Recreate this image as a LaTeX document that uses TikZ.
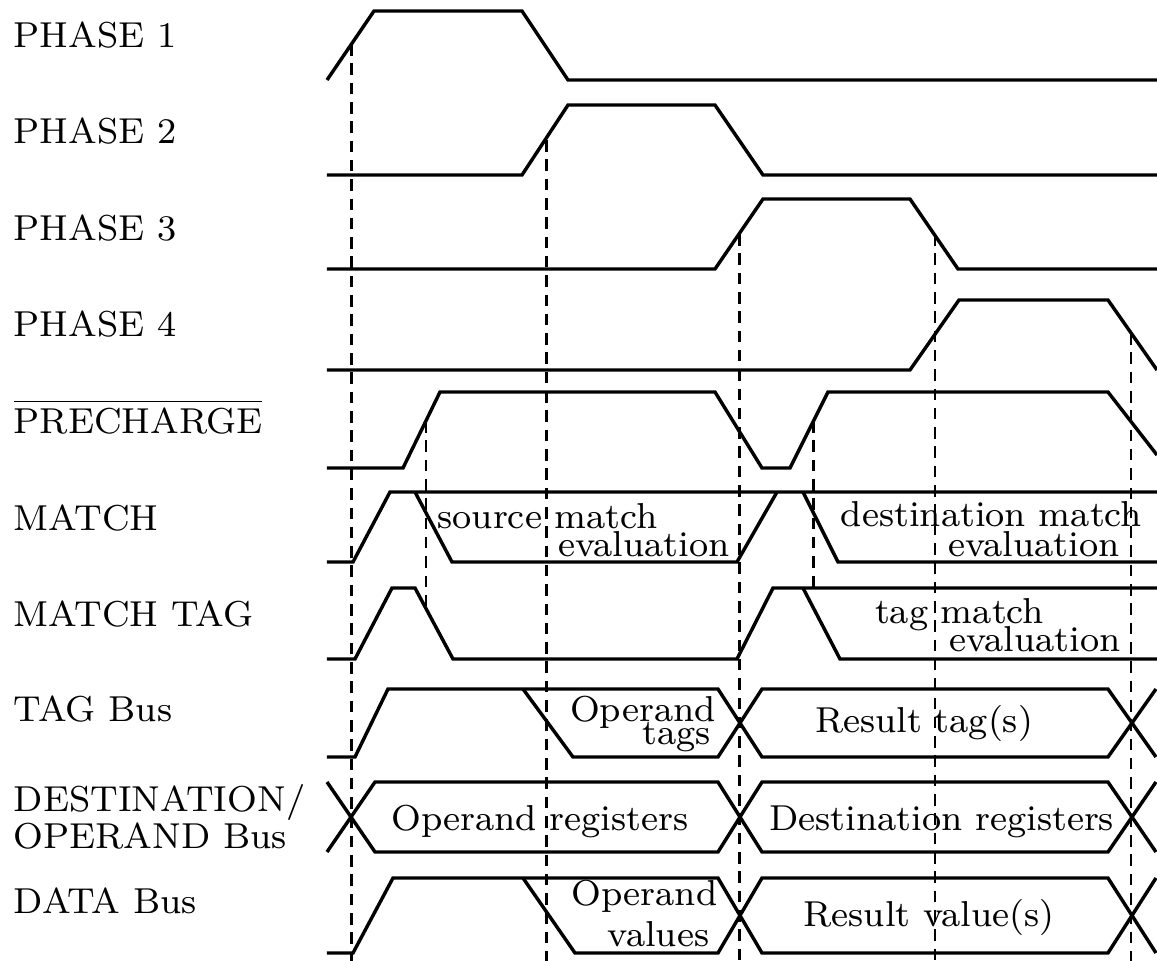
\documentclass[tikz,border=0pt]{standalone}
\usepackage{tikz}

\begin{document}
\begin{tikzpicture}[x=0.233pt,y=-0.233pt,
		sig/.style={line width=0.8pt},
		guide/.style={line width=0.65pt,dash pattern=on 2.7pt off 1.8pt},
		lbl/.style={inner sep=0pt,anchor=base west,font=\fontsize{8.4}{9}\selectfont},
		lblc/.style={lbl,anchor=base},
		lblr/.style={lbl,anchor=base east},
		upper/.style={text depth=0pt}]
		\useasboundingbox (0,0) rectangle (1157,961);
		
		%signal names
		\node[lbl] (nph1) at (13,47.7) {PHASE 1};
		\node[lbl] (nph2) at (13,143.3) {PHASE 2};
		\node[lbl] (nph3) at (13,240) {PHASE 3};
		\node[lbl] (nph4) at (13,336.3) {PHASE 4};
		\node[lbl] (npre) at (13,433.3) {$\overline{\mbox{PRECHARGE}}$};
		\node[lbl] (nmatch) at (13,530) {MATCH};
		\node[lbl] (nmtag) at (13,626) {MATCH TAG};
		\node[lbl] (ntag) at (13,721.7) {TAG Bus};
		\node[lbl,upper] (ndest) at (13,811.7) {DESTINATION/};
		\node[lbl] (ndestb) at (13,848.3) {OPERAND Bus};
		\node[lbl] (ndata) at (13,913.3) {DATA Bus};
		
		%clock phases
		\draw[sig] (327,80) -- (374,11) -- (522,11) -- (568,80) -- (1157,80);
		\draw[sig] (327,175) -- (522,175) -- (568,105) -- (715,105) -- (763,175) -- (1157,175);
		\draw[sig] (327,269) -- (715,269) -- (763,199) -- (910,199) -- (958,269) -- (1157,269);
		\draw[sig] (327,370) -- (910,370) -- (959,300) -- (1108,300) -- (1157,370);
		
		%precharge
		\draw[sig] (327,468) -- (403,468) -- (440,392) -- (715,392) -- (762,468) -- (790,468) -- (828,392) -- (1108,392) -- (1157,455);
		
		%match lines
		\draw[sig] (327,562) -- (353,562) -- (390,492) -- (1157,492);
		\draw[sig] (415,492) -- (452,562) -- (737,562) -- (777,492);
		\draw[sig] (803,492) -- (838,562) -- (1157,562);
		\draw[sig] (327,659) -- (355,659) -- (392,588) -- (415,588) -- (453,659) -- (737,659) -- (773,588) -- (1157,588);
		\draw[sig] (803,588) -- (840,659) -- (1157,659);
		
		%buses
		\draw[sig] (327,757) -- (355,757) -- (388,689) -- (718,689) -- (762,757) -- (1108,757) -- (1156,689);
		\draw[sig] (523,689) -- (573,757) -- (718,757) -- (762,689) -- (1108,689) -- (1156,757);
		\draw[sig] (327,782) -- (375,852) -- (718,852) -- (762,782) -- (1108,782) -- (1156,852);
		\draw[sig] (327,852) -- (375,782) -- (718,782) -- (762,852) -- (1108,852) -- (1156,782);
		\draw[sig] (327,953) -- (353,953) -- (393,878) -- (718,878) -- (762,953) -- (1108,953) -- (1156,878);
		\draw[sig] (523,878) -- (575,953) -- (718,953) -- (762,878) -- (1108,878) -- (1156,953);
		
		%timing marks
		\draw[guide] (351.7,44) -- (351.7,961);
		\draw[guide] (546.7,140) -- (546.7,961);
		\draw[guide] (739.3,234) -- (739.3,961);
		\draw[guide] (935,234) -- (935,961);
		\draw[guide] (1131,333) -- (1131,961);
		\draw[guide] (426,421) -- (426,609);
		\draw[guide] (813.3,421) -- (813.3,590);
		
		%phase descriptions
		\node[lbl,upper] (srcm) at (436.7,528.3) {source match};
		\node[lblr] (srce) at (730.7,556.7) {evaluation};
		\node[lblr,upper] (dstm) at (1143,526.7) {destination match};
		\node[lblr] (dste) at (1120.7,556) {evaluation};
		\node[lblr,upper] (tagm) at (1045,623) {tag match};
		\node[lblr] (tage) at (1121.7,651.7) {evaluation};
		\node[lblr,upper] (opt) at (716.7,721.7) {Operand};
		\node[lblr] (opt2) at (711.7,744.5) {tags};
		\node[lblc] (rest) at (924,732.7) {Result tag(s)};
		\node[lblc] (opreg) at (540,830) {Operand registers};
		\node[lblc] (dreg) at (941.7,830) {Destination registers};
		\node[lblr,upper] (opv) at (718.3,905) {Operand};
		\node[lblr] (opv2) at (710,946.7) {values};
		\node[lblc] (resv) at (929,926.7) {Result value(s)};
		
		\end{tikzpicture}
\end{document}
